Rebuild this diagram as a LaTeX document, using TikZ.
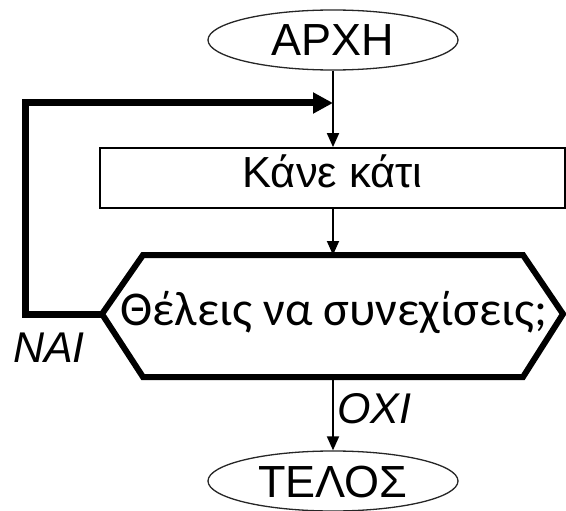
\documentclass[tikz,border=0pt]{standalone}
\usepackage{fontspec}
\setmainfont{Liberation Sans}
\newfontfamily\hexfont{Carlito}
\usetikzlibrary{arrows.meta,shapes.geometric}
\begin{document}
\begin{tikzpicture}[x=1pt,y=-1pt,
  term/.style={ellipse, draw=black!85, line width=1.3pt, minimum width=250pt, minimum height=60pt,
    inner sep=0pt, text height=32pt, text depth=0pt, font=\fontsize{45}{50}\selectfont},
  procbox/.style={draw, line width=1.8pt, minimum width=465pt, minimum height=60pt,
    inner sep=0pt, text height=30pt, text depth=12pt, font=\fontsize{43.5}{48}\selectfont},
  flow/.style={line width=1.8pt, -{Triangle[length=14pt,width=12pt]}},
  loopline/.style={line width=7pt, -{Triangle[length=20pt,width=20pt]}},
  hexline/.style={line width=6pt, line join=miter},
  lab/.style={font=\fontsize{43}{48}\selectfont\itshape, inner sep=0pt, anchor=base west}]
\useasboundingbox (0,0) rectangle (566,511);
% nodes
\node[term] (start) at (333,40) {ΑΡΧΗ};
\node[procbox] (proc) at (332.5,178) {Κάνε κάτι};
\coordinate (hexL) at (102,314);
\coordinate (hexT) at (333,255);
\coordinate (hexB) at (333,377);
\draw[hexline] (hexL) -- (143,255) -- (523,255) -- (563,314) -- (523,377) -- (143,377) -- cycle;
\node[inner sep=0pt, anchor=base, font=\hexfont\fontsize{48.5}{52}\selectfont] (question) at (334,325) {Θέλεις να συνεχίσεις;};
\node[term] (stop) at (333,481) {ΤΕΛΟΣ};
\node[lab] (yes) at (13,362) {ΝΑΙ};
\node[lab] (no) at (337,423) {ΟΧΙ};
% connectors
\draw[flow] (start.south) -- (start.south |- proc.north);
\draw[flow] (hexT |- proc.south) -- (hexT);
\draw[flow] (hexB) -- (stop.north);
\coordinate (loopB) at (25,314);
\coordinate (loopT) at (25,103);
\coordinate (join) at (333,103);
\draw[loopline] (hexL) -- (loopB) -- (loopT) -- (join);
\end{tikzpicture}
\end{document}
